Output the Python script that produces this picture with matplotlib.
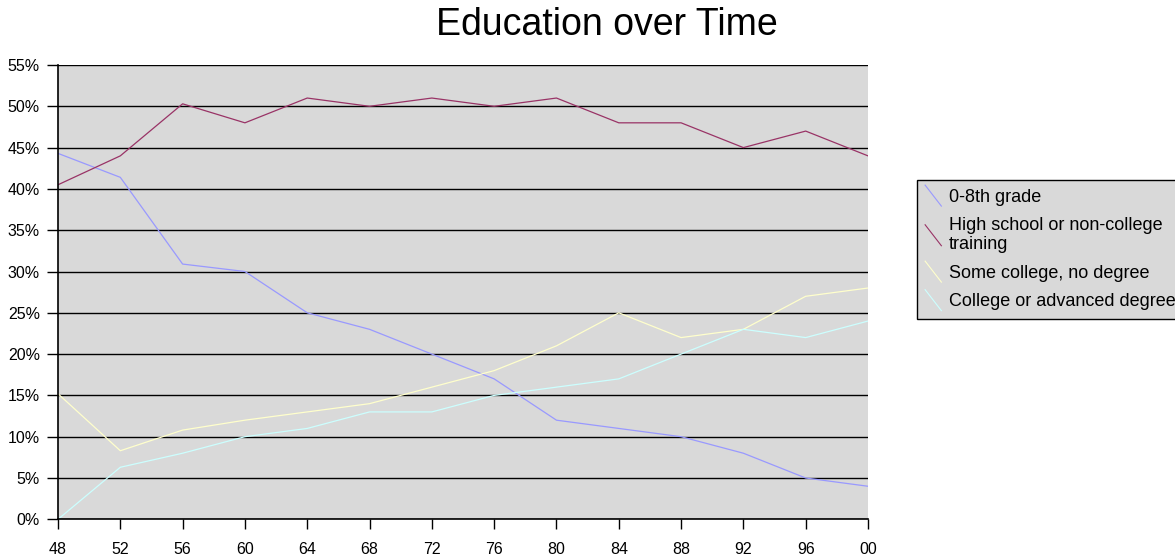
import matplotlib
matplotlib.use("Agg")
import matplotlib.pyplot as plt
from matplotlib.lines import Line2D

plt.rcParams["font.family"] = ["Liberation Sans", "DejaVu Sans"]

years = ["48", "52", "56", "60", "64", "68", "72", "76", "80", "84", "88", "92", "96", "00"]
grade_0_8 = [44.3, 41.4, 30.9, 30, 25, 23, 20, 17, 12, 11, 10, 8, 5, 4]
high_school = [40.5, 44, 50.3, 48, 51, 50, 51, 50, 51, 48, 48, 45, 47, 44]
some_college = [15.2, 8.3, 10.8, 12, 13, 14, 16, 18, 21, 25, 22, 23, 27, 28]
college_degree = [0, 6.3, 8, 10, 11, 13, 13, 15, 16, 17, 20, 23, 22, 24]

series_names = ["0-8th grade", "High school or non-college\ntraining",
                "Some college, no degree", "College or advanced degree"]
series_values = [grade_0_8, high_school, some_college, college_degree]
series_colors = ["#9999FF", "#993366", "#FFFFCC", "#CCFFFF"]
y_ticks = [0, 5, 10, 15, 20, 25, 30, 35, 40, 45, 50, 55]


class DiagonalHandler:
    """Legend key drawn as a short line falling from top-left to bottom-right."""
    def legend_artist(self, legend, orig_handle, fontsize, handlebox):
        x0, y0 = -handlebox.xdescent, -handlebox.ydescent
        w, h = handlebox.width, handlebox.height
        line = Line2D([x0, x0 + w], [y0 + h * 1.2, y0 - h * 0.2],
                      color=orig_handle.get_color(), lw=0.8,
                      transform=handlebox.get_transform())
        handlebox.add_artist(line)
        return line


W, H = 1175, 557
fig = plt.figure(figsize=(W / 100, H / 100), dpi=100)
ax = fig.add_axes([58 / W, 1 - 519.3 / H, (868 - 58) / W, (519.3 - 65) / H])
ax.set_facecolor("#D9D9D9")

x = list(range(len(years)))
handles = []
for name, vals, col in zip(series_names, series_values, series_colors):
    ln, = ax.plot(x, vals, color=col, lw=0.9, label=name)
    handles.append(ln)

ax.set_xlim(0, len(years) - 1)
ax.set_ylim(0, 55)
ax.set_xticks(x)
ax.set_xticklabels(years)
ax.set_yticks(y_ticks)
ax.set_yticklabels([f"{v}%" for v in y_ticks])
ax.yaxis.grid(True, color="black", lw=1.0)
ax.set_axisbelow(True)
for s in ("top", "right"):
    ax.spines[s].set_visible(False)
for s in ("left", "bottom"):
    ax.spines[s].set_linewidth(1.2)
    ax.spines[s].set_zorder(3)
ax.tick_params(axis="x", direction="out", length=7.5, width=1, pad=9, labelsize=11.5)
ax.tick_params(axis="y", direction="out", length=8, width=1, pad=5, labelsize=11.5)

leg = fig.legend(handles, series_names, loc="upper left",
                 bbox_to_anchor=(917 / W, 1 - 180 / H), fontsize=13,
                 handler_map={Line2D: DiagonalHandler()},
                 handlelength=0.9, handleheight=0.9, handletextpad=0.4,
                 labelspacing=0.6, borderpad=0.45, borderaxespad=0,
                 frameon=True, fancybox=False, framealpha=1)
leg.get_frame().set_facecolor("#D9D9D9")
leg.get_frame().set_edgecolor("black")
leg.get_frame().set_linewidth(1.0)

fig.text(607 / W, 1 - 35 / H, "Education over Time", ha="center", va="baseline",
         fontsize=27)

fig.savefig("out.png", dpi=100)
